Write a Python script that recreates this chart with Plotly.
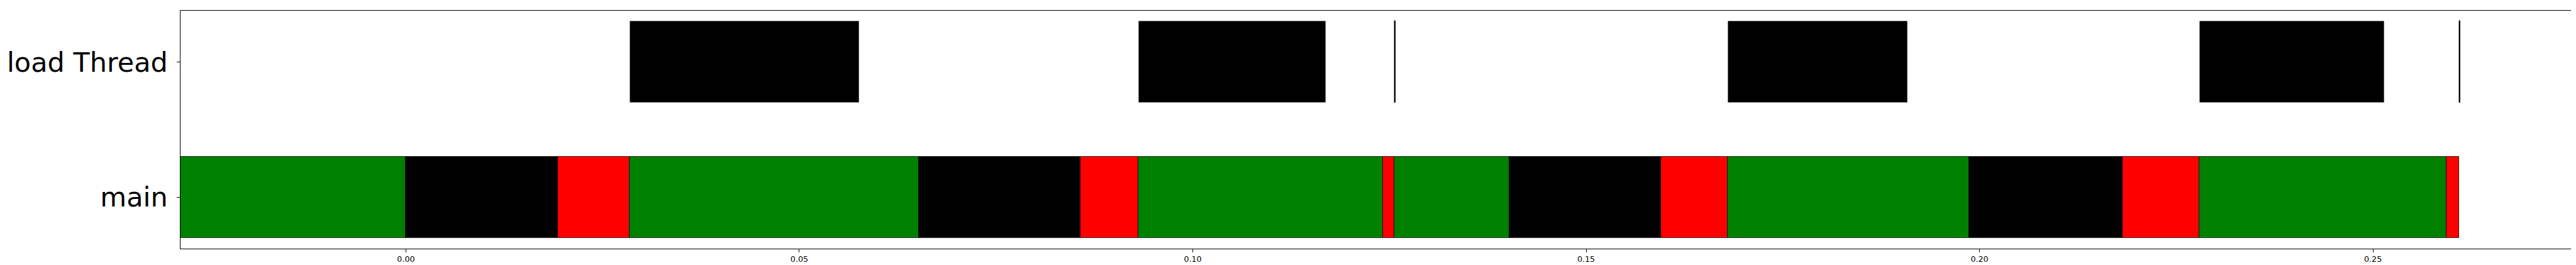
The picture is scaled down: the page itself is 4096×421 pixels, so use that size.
import plotly.graph_objects as go

# ---- data (seconds) ----
thread_labels = ["main", "load Thread"]

main_starts = [-0.0300, 0.0000, 0.01930, 0.02843, 0.06515, 0.08577, 0.09306, 0.12414,
               0.12562, 0.14027, 0.15950, 0.16799, 0.19866, 0.21820, 0.22790, 0.25936]
main_ends = [0.0000, 0.01930, 0.02843, 0.06515, 0.08577, 0.09306, 0.12414, 0.12562,
             0.14027, 0.15950, 0.16799, 0.19866, 0.21820, 0.22790, 0.25936, 0.26094]
main_colors = ["green", "black", "red", "green", "black", "red", "green", "red",
               "green", "black", "red", "green", "black", "red", "green", "red"]

load_starts = [0.02851, 0.09318, 0.12566, 0.16810, 0.22802, 0.26100]
load_ends = [0.05763, 0.11691, 0.12576, 0.19081, 0.25140, 0.26110]
load_colors = ["black", "black", "black", "black", "black", "black"]

x_tick_vals = [0.00, 0.05, 0.10, 0.15, 0.20, 0.25]
x_tick_text = ["0.00", "0.05", "0.10", "0.15", "0.20", "0.25"]

color_map = {"green": "#008000", "red": "#ff0000", "black": "#000000"}

load_durations = [e - s for s, e in zip(load_starts, load_ends)]
load_edge = ["black" if d < 0.001 else "rgba(0,0,0,0.3)" for d in load_durations]
load_edge_w = [1.4 if d < 0.001 else 0.8 for d in load_durations]

fig = go.Figure()

fig.add_trace(go.Bar(
    orientation="h",
    y=[0] * len(main_starts),
    base=main_starts,
    x=[e - s for s, e in zip(main_starts, main_ends)],
    width=0.6,
    marker=dict(color=[color_map[c] for c in main_colors],
                line=dict(color="black", width=0.8)),
    showlegend=False,
))

fig.add_trace(go.Bar(
    orientation="h",
    y=[1] * len(load_starts),
    base=load_starts,
    x=load_durations,
    width=0.6,
    marker=dict(color=[color_map[c] for c in load_colors],
                line=dict(color=load_edge, width=load_edge_w)),
    showlegend=False,
))

fig.update_layout(
    width=4096, height=421, autosize=False,
    margin=dict(l=279, r=12, t=9, b=34, pad=0),
    paper_bgcolor="white", plot_bgcolor="white",
    barmode="overlay", bargap=0,
    font=dict(family="DejaVu Sans", color="black"),
)

fig.update_xaxes(
    range=[-0.02865, 0.27549],
    tickvals=x_tick_vals, ticktext=x_tick_text,
    tickfont=dict(size=12.7, family="DejaVu Sans", color="black"),
    ticks="outside", ticklen=4.6, tickwidth=0.8, tickcolor="black",
    showline=True, linecolor="black", linewidth=1, mirror=True,
    showgrid=False, zeroline=False, automargin=False,
)

fig.update_yaxes(
    range=[-0.38, 1.38],
    tickvals=[0, 1], ticktext=thread_labels,
    tickfont=dict(size=43, family="DejaVu Sans", color="black"),
    ticks="outside", ticklen=4.6, tickwidth=0.8, tickcolor="black",
    ticklabelstandoff=6,
    showline=True, linecolor="black", linewidth=1, mirror=True,
    showgrid=False, zeroline=False, automargin=False,
)

fig.write_html("out.html")
